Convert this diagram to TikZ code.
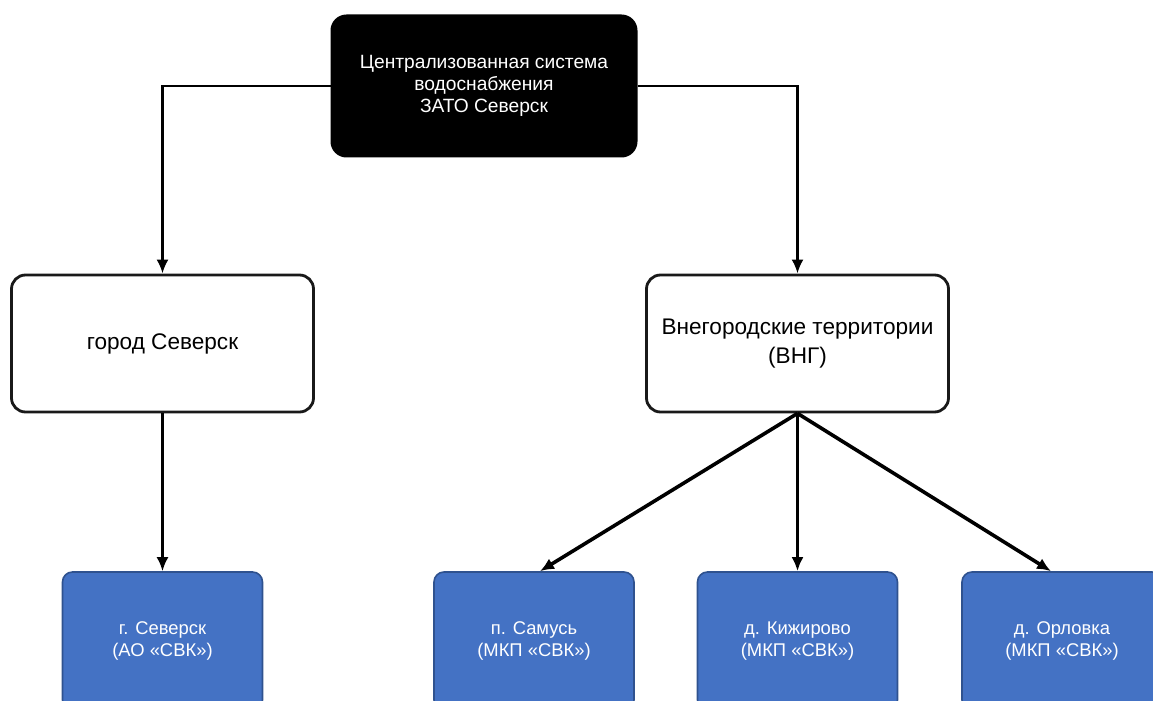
\documentclass[tikz,border=0pt]{standalone}
\usepackage{fontspec}
\setmainfont{Liberation Sans}
\usetikzlibrary{arrows.meta}
\definecolor{boxblue}{HTML}{4472C4}
\definecolor{boxblueline}{HTML}{2F528F}
\begin{document}
\begin{tikzpicture}[x=0.5pt,y=-0.5pt,
    topbox/.style={draw=black,fill=black,text=white,rounded corners=7.5pt,line width=1pt,
      minimum width=152.5pt,minimum height=70.5pt,align=center,
      font=\fontsize{9.6}{11}\selectfont},
    midbox/.style={draw=black!90,fill=white,rounded corners=7pt,line width=1.4pt,
      minimum width=151pt,minimum height=68.5pt,align=center,
      font=\fontsize{11.3}{14.5}\selectfont},
    leafbox/.style={draw=boxblueline,fill=boxblue,text=white,rounded corners=5pt,line width=0.8pt,
      minimum width=100pt,minimum height=69pt,align=center,
      font=\fontsize{9.2}{11}\selectfont},
    link/.style={->,line width=1.3pt},
    fanlink/.style={->,line width=1.8pt}]
       \tikzset{>={Latex[length=7pt,width=6pt]}}
       \useasboundingbox (0,0) rectangle (1153,701);
       \clip (0,0) rectangle (1153,701);
       \node[topbox] (zato) at (484,86) {Централизованная система\\водоснабжения\\ЗАТО Северск};
       \node[midbox] (city) at (162.5,343.5) {город Северск};
       \node[midbox] (vng) at (797.5,343.5) {Внегородские территории\\(ВНГ)};
       \node[leafbox] (seversk) at (162.5,641) {г. Северск\\(АО «СВК»)};
       \node[leafbox] (samus) at (534,641) {п. Самусь\\(МКП «СВК»)};
       \node[leafbox] (kizh) at (797.5,641) {д. Кижирово\\(МКП «СВК»)};
       \node[leafbox] (orl) at (1062,641) {д. Орловка\\(МКП «СВК»)};
       \draw[link] (zato.west) -| (city.north);
       \draw[link] (zato.east) -| (vng.north);
       \draw[link] (city.south) -- (seversk.north);
       \draw[fanlink] (vng.south) -- ([xshift=3pt]samus.north);
       \draw[fanlink] (vng.south) -- (kizh.north);
       \draw[fanlink] (vng.south) -- ([xshift=-5.5pt]orl.north);
   \end{tikzpicture}
\end{document}
